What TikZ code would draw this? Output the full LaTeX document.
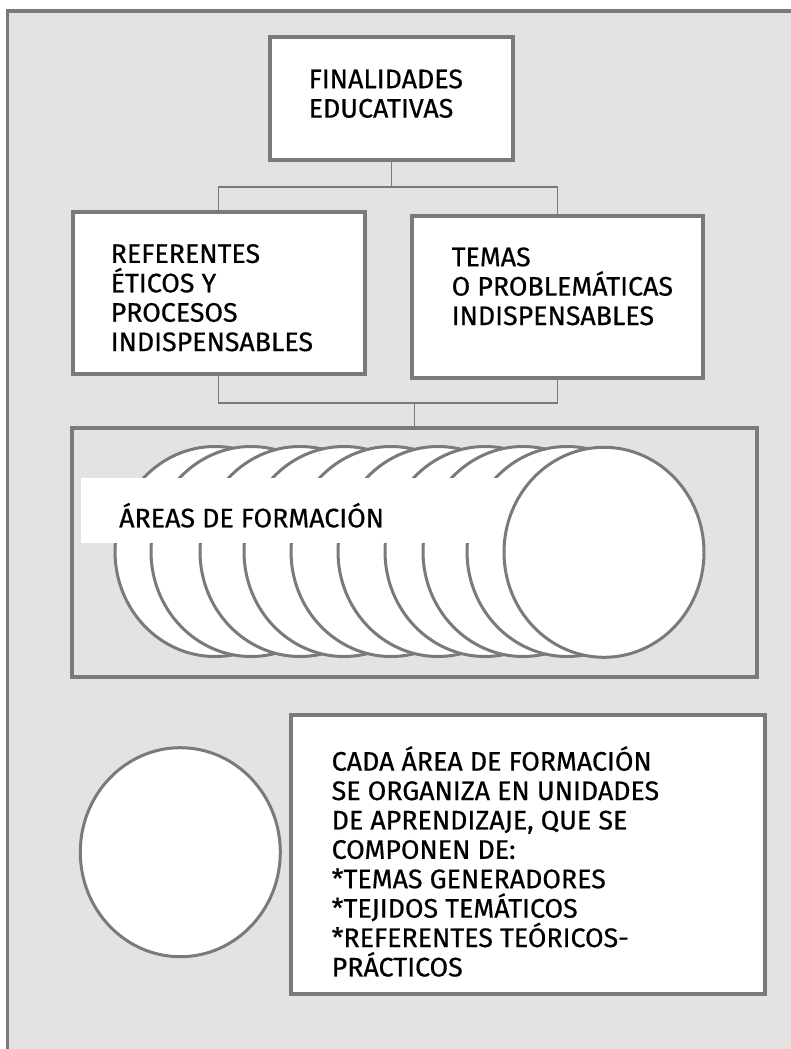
\documentclass[tikz,border=0pt]{standalone}
\usepackage{fontspec}
\setmainfont{Fira Sans}[FakeBold=0.6]
\usetikzlibrary{shapes.geometric}
\definecolor{edgegray}{RGB}{122,122,122}
\definecolor{sheetgray}{RGB}{227,227,227}

\begin{document}
\begin{tikzpicture}[x=1pt, y=-1pt,
        box/.style={draw=edgegray, line width=4pt, fill=white, rectangle, inner sep=0},
        link/.style={draw=edgegray, line width=1.8pt},
        disc/.style={draw=edgegray, line width=3pt, fill=white, ellipse, inner sep=0, minimum width=200, minimum height=210},
        words/.style={anchor=north west, inner sep=0, align=left, font=\fontsize{26.8}{29.4}\selectfont}]
        \useasboundingbox (0,0) rectangle (791,1049);
        \draw[line width=3.6pt, draw=edgegray, fill=sheetgray] (7.5,11.3) rectangle (830,1090);

        \node[box, minimum width=243, minimum height=123] (fin) at (391.5,98.5) {};
        \node[box, minimum width=292, minimum height=161.5] (ref) at (218.5,292.75) {};
        \node[box, minimum width=291, minimum height=162] (tem) at (557.5,297) {};

        \node[words] (fintext) at (308.5,64) {\rule{0pt}{24pt}FINALIDADES\\EDUCATIVAS};
        \node[words] (reftext) at (110.5,238.7) {\rule{0pt}{24pt}REFERENTES\\ÉTICOS Y\\PROCESOS\\INDISPENSABLES};
        \node[words] (temtext) at (451.5,242) {\rule{0pt}{24pt}TEMAS\\O PROBLEMÁTICAS\\INDISPENSABLES};

        \coordinate (upfork) at (391.5,186.7);
        \coordinate (lowfork) at (414.5,403.3);
        \draw[link] (fin.south) -- (upfork);
        \draw[link] (ref.north) |- (upfork) -| (tem.north);
        \draw[link] (ref.south) |- (lowfork) -| (tem.south);

        % areas de formacion
        \node[draw=edgegray, line width=4pt, minimum width=685, minimum height=249.5, inner sep=0] (areas) at (414.5,552.25) {};
        \draw[link] (lowfork) -- (areas.north);
        \foreach \cx [count=\i] in {215,251,300,344,391,438,485,523,567}
            \node[disc] (disc\i) at (\cx,551.5) {};
        \fill[white] (81,478) rectangle (506,542.7);
        \node[disc] (disc10) at (604,552.3) {};
        \node[words] (areastext) at (119,502.7) {\rule{0pt}{24pt}ÁREAS DE FORMACIÓN};

        % unidades
        \node[disc, minimum height=209] (unit) at (180.3,852.2) {};
        \node[box, minimum width=474, minimum height=279] (comp) at (528,854.5) {};
        \node[words] (comptext) at (331.5,746) {\rule{0pt}{24pt}CADA ÁREA DE FORMACIÓN\\SE ORGANIZA EN UNIDADES\\DE APRENDIZAJE, QUE SE\\COMPONEN DE:\\*TEMAS GENERADORES\\*TEJIDOS TEMÁTICOS\\*REFERENTES TEÓRICOS-\\PRÁCTICOS};
\end{tikzpicture}
\end{document}
